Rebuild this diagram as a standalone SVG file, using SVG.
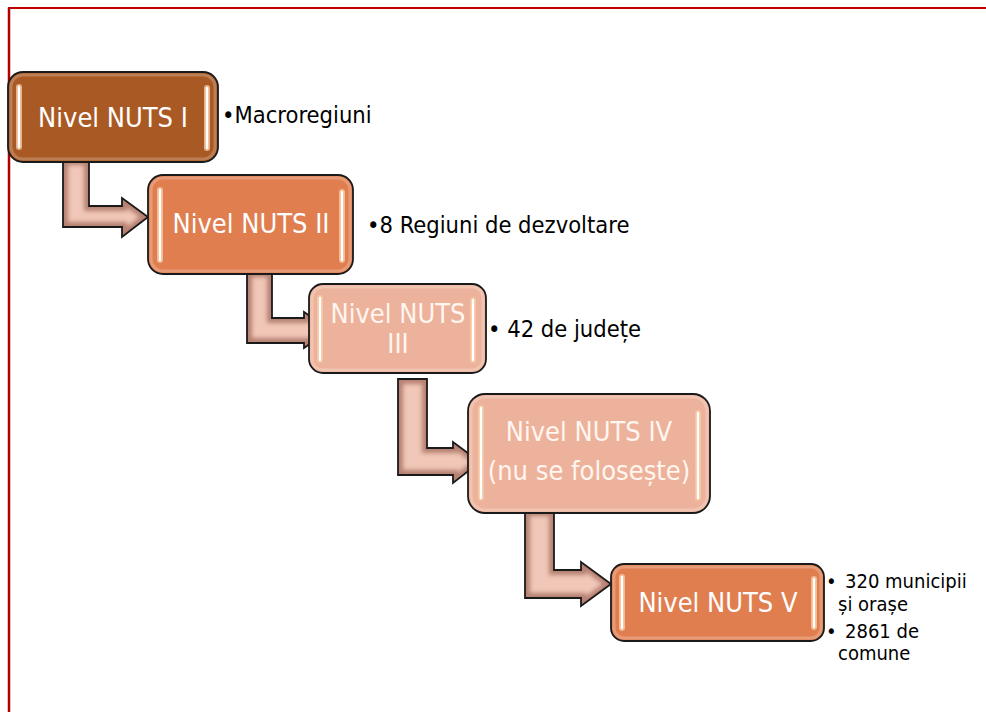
<svg xmlns="http://www.w3.org/2000/svg" width="986" height="712" viewBox="0 0 986 712">
<style>
.box{stroke:#1a1a1a;stroke-width:1.8}
.dark{fill:#A95A24}
.mid{fill:#E07E50}
.light{fill:#EDB29B}
.rim{fill:none;stroke:#ffffff;stroke-opacity:0.22;stroke-width:3}
.glow{stroke:#F7C9A3;stroke-width:6;stroke-linecap:round;stroke-opacity:0.8}
.bar{stroke:#FFFFFF;stroke-width:2.4;stroke-linecap:round}
.t{font-family:'DejaVu Sans Condensed','DejaVu Sans',sans-serif;font-stretch:condensed;font-size:27px;fill:#FFFFFF;text-anchor:middle}
.tl{fill:#FFF6F0}
.s{font-family:'DejaVu Sans Condensed','DejaVu Sans',sans-serif;font-stretch:condensed;font-size:23.5px;fill:#000000}
.s2{font-family:'DejaVu Sans Condensed','DejaVu Sans',sans-serif;font-stretch:condensed;font-size:20px;fill:#000000}
.afill{fill:#F0C7B8}
.arim{fill:none;stroke:#A86F60;stroke-width:10;stroke-opacity:0.8}
.aout{fill:none;stroke:#1a1a1a;stroke-width:1.8;stroke-linejoin:miter}
</style>
<defs>
<filter id="blur" x="-10%" y="-10%" width="120%" height="120%"><feGaussianBlur stdDeviation="2.2"/></filter>
<path id="a1" d="M63,160 H89 V206 H122 V198 L148,217 L122,237 V227 H63 Z"/>
<path id="a2" d="M247,272 H272 V318 H304 V312 L330,330 L304,348 V343 H247 Z"/>
<path id="a3" d="M398,379 H427 V448 H453 V442 L480,462 L453,483 V475 H398 Z"/>
<path id="a4" d="M525,511 H554 V570 H581 V562 L611,584 L581,606 V598 H525 Z"/>
<clipPath id="c1"><use href="#a1"/></clipPath>
<clipPath id="c2"><use href="#a2"/></clipPath>
<clipPath id="c3"><use href="#a3"/></clipPath>
<clipPath id="c4"><use href="#a4"/></clipPath>
</defs>
<rect width="986" height="712" fill="#FFFFFF"/>
<g id="frame">
<line x1="8" y1="8" x2="986" y2="8" stroke="#C00000" stroke-width="2"/>
<line x1="9" y1="8" x2="9" y2="712" stroke="#B00000" stroke-width="2.5"/>
</g>
<g id="connectors">
<use href="#a1" class="afill"/>
<g clip-path="url(#c1)"><use href="#a1" class="arim" filter="url(#blur)"/></g>
<use href="#a1" class="aout"/>
<use href="#a2" class="afill"/>
<g clip-path="url(#c2)"><use href="#a2" class="arim" filter="url(#blur)"/></g>
<use href="#a2" class="aout"/>
<use href="#a3" class="afill"/>
<g clip-path="url(#c3)"><use href="#a3" class="arim" filter="url(#blur)"/></g>
<use href="#a3" class="aout"/>
<use href="#a4" class="afill"/>
<g clip-path="url(#c4)"><use href="#a4" class="arim" filter="url(#blur)"/></g>
<use href="#a4" class="aout"/>
</g>
<g id="n1">
<rect class="box dark" x="8" y="72" width="210" height="90" rx="15"/>
<rect class="rim" x="11" y="75" width="204" height="84" rx="12"/>
<line class="glow" x1="19" y1="87" x2="19" y2="147"/><line class="bar" x1="19" y1="87" x2="19" y2="147"/>
<line class="glow" x1="207" y1="88" x2="207" y2="148"/><line class="bar" x1="207" y1="88" x2="207" y2="148"/>
<text class="t" x="113" y="127">Nivel NUTS I</text>
<text class="s" x="222" y="123">•Macroregiuni</text>
</g>
<g id="n2">
<rect class="box mid" x="148" y="175" width="205" height="99" rx="15"/>
<rect class="rim" x="151" y="178" width="199" height="93" rx="12"/>
<line class="glow" x1="160" y1="190" x2="160" y2="260"/><line class="bar" x1="160" y1="190" x2="160" y2="260"/>
<line class="glow" x1="342" y1="192" x2="342" y2="260"/><line class="bar" x1="342" y1="192" x2="342" y2="260"/>
<text class="t" x="251" y="233">Nivel NUTS II</text>
<text class="s" x="367" y="233">•8 Regiuni de dezvoltare</text>
</g>
<g id="n3">
<rect class="box light" x="309" y="284" width="177" height="89" rx="14"/>
<rect class="rim" x="312" y="287" width="171" height="83" rx="11"/>
<line class="glow" x1="320" y1="298" x2="320" y2="360"/><line class="bar" x1="320" y1="298" x2="320" y2="360"/>
<line class="glow" x1="473" y1="300" x2="473" y2="360"/><line class="bar" x1="473" y1="300" x2="473" y2="360"/>
<text class="t tl" x="398" y="323">Nivel NUTS</text>
<text class="t tl" x="398" y="353">III</text>
<text class="s" x="488" y="337">• 42 de județe</text>
</g>
<g id="n4">
<rect class="box light" x="468" y="394" width="242" height="119" rx="17"/>
<rect class="rim" x="471" y="397" width="236" height="113" rx="14"/>
<line class="glow" x1="481" y1="408" x2="481" y2="498"/><line class="bar" x1="481" y1="408" x2="481" y2="498"/>
<line class="glow" x1="698" y1="413" x2="698" y2="498"/><line class="bar" x1="698" y1="413" x2="698" y2="498"/>
<text class="t tl" x="589" y="441">Nivel NUTS IV</text>
<text class="t tl" x="589" y="480">(nu se folosește)</text>
</g>
<g id="n5">
<rect class="box mid" x="611" y="564" width="213" height="77" rx="13"/>
<rect class="rim" x="614" y="567" width="207" height="71" rx="10"/>
<line class="glow" x1="622" y1="577" x2="622" y2="628"/><line class="bar" x1="622" y1="577" x2="622" y2="628"/>
<line class="glow" x1="814" y1="579" x2="814" y2="627"/><line class="bar" x1="814" y1="579" x2="814" y2="627"/>
<text class="t" x="718" y="612">Nivel NUTS V</text>
<text class="s2" x="826" y="588">•</text>
<text class="s2" x="845" y="588">320 municipii</text>
<text class="s2" x="838" y="611">și orașe</text>
<text class="s2" x="826" y="638">•</text>
<text class="s2" x="845" y="638">2861 de</text>
<text class="s2" x="838" y="660">comune</text>
</g>
</svg>
